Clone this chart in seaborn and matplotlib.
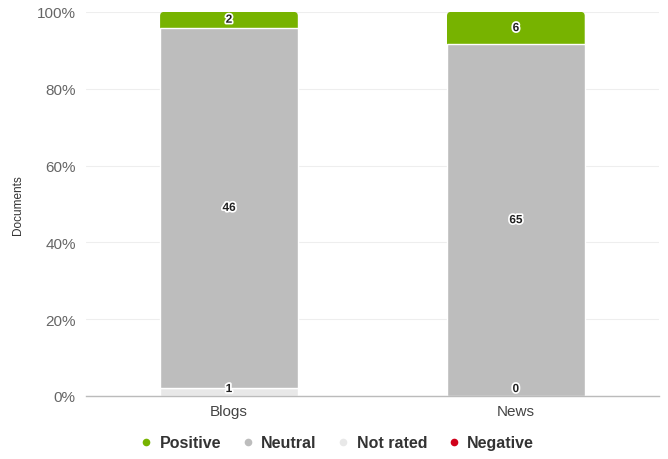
import numpy as np
import pandas as pd
import matplotlib
matplotlib.use("Agg")
import matplotlib.pyplot as plt
import matplotlib.patheffects as pe
from matplotlib.patches import FancyBboxPatch
from matplotlib.lines import Line2D
import seaborn as sns

categories = ["Blogs", "News"]
not_rated = [1, 0]
neutral = [46, 65]
positive = [2, 6]
negative = [0, 0]

series_names = ["Not rated", "Neutral", "Positive"]
series_counts = [not_rated, neutral, positive]
colors = {"Positive": "#77b300", "Neutral": "#bdbdbd", "Not rated": "#e8e8e8", "Negative": "#d0021b"}
legend_order = ["Positive", "Neutral", "Not rated", "Negative"]

sns.set_theme(style="white")
plt.rcParams["font.family"] = ["Liberation Sans", "DejaVu Sans"]

totals = np.array(not_rated) + np.array(neutral) + np.array(positive) + np.array(negative)

fig = plt.figure(figsize=(6.68, 4.6), dpi=100)
ax = fig.add_axes([0.128, 0.137, 0.859, 0.835])

bar_w = 0.48
bottom = np.zeros(len(categories))
label_info = []
for i, (name, counts) in enumerate(zip(series_names, series_counts)):
    pct = np.array(counts) / totals * 100
    df = pd.DataFrame({"cat": categories, "pct": pct})
    n_before = len(ax.patches)
    sns.barplot(data=df, x="cat", y="pct", bottom=bottom, color=colors[name],
                width=bar_w, edgecolor="white", linewidth=1, ax=ax,
                saturation=1, zorder=3 if i < len(series_names) - 1 else 2)
    new_patches = ax.patches[n_before:]
    if i == len(series_names) - 1:
        # topmost segment gets rounded top corners
        for p in new_patches:
            x0, y0 = p.get_x(), p.get_y()
            w, h = p.get_width(), p.get_height()
            p.set_visible(False)
            rp = FancyBboxPatch((x0, y0 - 2), w, h + 2,
                                boxstyle="round,pad=0,rounding_size=0.014",
                                mutation_aspect=74, facecolor=colors[name],
                                edgecolor="none", zorder=2)
            ax.add_patch(rp)
    for j in range(len(categories)):
        label_info.append((j, bottom[j] + pct[j] / 2, counts[j]))
    bottom = bottom + pct

for j, y, c in label_info:
    ax.text(j, max(y, 1.8), str(c), ha="center", va="center", fontsize=8.5,
            fontweight="bold", color="#222222", zorder=5,
            path_effects=[pe.withStroke(linewidth=2.5, foreground="white")])

ax.set_ylim(0, 100)
ax.set_xlim(-0.5, 1.5)
ax.set_yticks(np.arange(0, 101, 20))
ax.set_yticklabels([f"{v}%" for v in range(0, 101, 20)], fontsize=11, color="#666666")
ax.tick_params(axis="x", labelsize=11, colors="#444444", length=0, pad=6)
ax.tick_params(axis="y", length=0, pad=7)
ax.yaxis.grid(True, color="#eeeeee", linewidth=0.8, zorder=0)
ax.set_axisbelow(True)
for s in ["top", "right", "left"]:
    ax.spines[s].set_visible(False)
ax.spines["bottom"].set_color("#bbbbbb")
ax.spines["bottom"].set_linewidth(1)
ax.spines["bottom"].set_zorder(4)
ax.set_xlabel("")
ax.set_ylabel("Documents", fontsize=8.5, color="#333333", labelpad=9)

handles = [Line2D([0], [0], marker="o", linestyle="none", markersize=5.5,
                  markerfacecolor=colors[n], markeredgecolor="none") for n in legend_order]
leg = fig.legend(handles, legend_order, loc="center", bbox_to_anchor=(0.502, 0.035),
                 ncol=4, frameon=False, handletextpad=0.25, columnspacing=1.05,
                 handlelength=1.2, prop={"size": 11.5, "weight": "bold"})
for t in leg.get_texts():
    t.set_color("#333333")

fig.savefig("out.png", dpi=100)
